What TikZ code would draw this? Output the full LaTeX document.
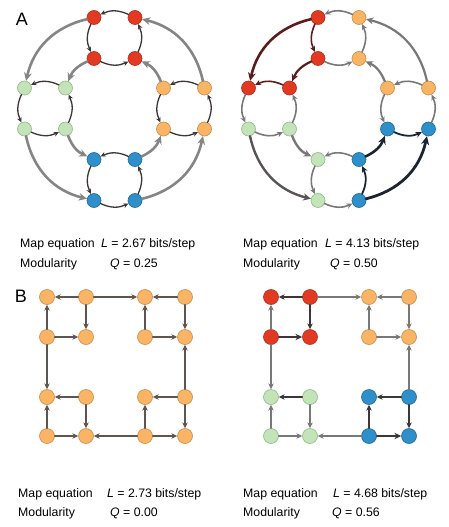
\documentclass[tikz,border=0pt]{standalone}
\usepackage{fontspec}
\setmainfont{Liberation Sans}
\usetikzlibrary{arrows.meta}

\definecolor{modred}{HTML}{E23A22}
\definecolor{modredline}{HTML}{B02C1A}
\definecolor{modorange}{HTML}{F9B466}
\definecolor{modorangeline}{HTML}{CC8C46}
\definecolor{modgreen}{HTML}{C3E3B9}
\definecolor{modgreenline}{HTML}{8FBB89}
\definecolor{modblue}{HTML}{2E8FC9}
\definecolor{modblueline}{HTML}{1F6A9C}
\definecolor{edgedark}{HTML}{3D3636}
\definecolor{edgegray}{HTML}{858585}
\definecolor{edgebrown}{HTML}{5F5550}
\definecolor{edgered}{HTML}{5A1C1C}
\definecolor{edgeblue}{HTML}{1D2431}

\tikzset{
  vertex/.style={circle, minimum size=14pt, inner sep=0pt, line width=0.6pt},
  redv/.style={vertex, fill=modred, draw=modredline},
  orangev/.style={vertex, fill=modorange, draw=modorangeline},
  greenv/.style={vertex, fill=modgreen, draw=modgreenline},
  bluev/.style={vertex, fill=modblue, draw=modblueline},
  flow/.style={-{Stealth[length=2pt 2.4, width=2pt 2.2]}},
  intra/.style={flow, draw=edgedark, line width=1.3pt},
  inter/.style={flow, draw=edgegray, line width=2.6pt},
  grayflow/.style={flow, draw=edgegray!90!black, line width=1.6pt},
  redflow/.style={flow, draw=edgered, line width=1.6pt},
  blueflow/.style={flow, draw=edgeblue, line width=1.8pt},
  gridflow/.style={flow, draw=edgebrown, line width=1.6pt},
  caption/.style={anchor=base west, inner sep=0pt, font=\fontsize{12.3}{15}\selectfont},
  panel/.style={inner sep=0pt, font=\fontsize{18}{20}\selectfont}
}

\begin{document}
\begin{tikzpicture}[x=1pt, y=-1pt, line cap=round, line join=round]
  \useasboundingbox (0,0) rectangle (448,527);

  % Buchstaben der Teilbilder
  \node[panel] (labelA) at (22,19) {A};
  \node[panel] (labelB) at (21,296) {B};

  % A links: vier Module auf einem Ring
  \node[redv] (La-t1) at (94,17.5) {};
  \node[redv] (La-t2) at (135,17.5) {};
  \node[redv] (La-t3) at (94,58.5) {};
  \node[redv] (La-t4) at (135,58.5) {};
  \node[greenv] (La-l1) at (24.5,88) {};
  \node[greenv] (La-l2) at (65.5,88) {};
  \node[greenv] (La-l3) at (24.5,129) {};
  \node[greenv] (La-l4) at (65.5,129) {};
  \node[orangev] (La-r1) at (163.5,88) {};
  \node[orangev] (La-r2) at (204.5,88) {};
  \node[orangev] (La-r3) at (163.5,129) {};
  \node[orangev] (La-r4) at (204.5,129) {};
  \node[bluev] (La-b1) at (94,159.5) {};
  \node[bluev] (La-b2) at (135,159.5) {};
  \node[bluev] (La-b3) at (94,200.5) {};
  \node[bluev] (La-b4) at (135,200.5) {};

  % Kanten innerhalb der Module
  \draw[intra] (La-t2) to[bend right=25] (La-t1);
  \draw[intra] (La-t1) to[bend right=25] (La-t3);
  \draw[intra] (La-t3) to[bend right=25] (La-t4);
  \draw[intra] (La-t4) to[bend right=25] (La-t2);
  \draw[intra] (La-l2) to[bend right=25] (La-l1);
  \draw[intra] (La-l1) to[bend right=25] (La-l3);
  \draw[intra] (La-l3) to[bend right=25] (La-l4);
  \draw[intra] (La-l4) to[bend right=25] (La-l2);
  \draw[intra] (La-r2) to[bend right=25] (La-r1);
  \draw[intra] (La-r1) to[bend right=25] (La-r3);
  \draw[intra] (La-r3) to[bend right=25] (La-r4);
  \draw[intra] (La-r4) to[bend right=25] (La-r2);
  \draw[intra] (La-b2) to[bend right=25] (La-b1);
  \draw[intra] (La-b1) to[bend right=25] (La-b3);
  \draw[intra] (La-b3) to[bend right=25] (La-b4);
  \draw[intra] (La-b4) to[bend right=25] (La-b2);

  % Kanten zwischen den Modulen
  \draw[inter] (La-t1) to[bend right=32] (La-l1);
  \draw[inter] (La-l3) to[bend right=32] (La-b3);
  \draw[inter] (La-b4) to[bend right=32] (La-r4);
  \draw[inter] (La-r2) to[bend right=32] (La-t2);
  \draw[inter] (La-t3) to[bend right=22] (La-l2);
  \draw[inter] (La-l4) to[bend right=22] (La-b1);
  \draw[inter] (La-b2) to[bend right=22] (La-r3);
  \draw[inter] (La-r1) to[bend right=22] (La-t4);

  % A rechts: gleiches Netz, andere Zerlegung
  \node[redv] (Ra-t1) at (318,17.5) {};
  \node[orangev] (Ra-t2) at (359,17.5) {};
  \node[redv] (Ra-t3) at (318,58.5) {};
  \node[orangev] (Ra-t4) at (359,58.5) {};
  \node[redv] (Ra-l1) at (248.5,88) {};
  \node[redv] (Ra-l2) at (289.5,88) {};
  \node[greenv] (Ra-l3) at (248.5,129) {};
  \node[greenv] (Ra-l4) at (289.5,129) {};
  \node[orangev] (Ra-r1) at (387.5,88) {};
  \node[orangev] (Ra-r2) at (428.5,88) {};
  \node[bluev] (Ra-r3) at (387.5,129) {};
  \node[bluev] (Ra-r4) at (428.5,129) {};
  \node[greenv] (Ra-b1) at (318,159.5) {};
  \node[bluev] (Ra-b2) at (359,159.5) {};
  \node[greenv] (Ra-b3) at (318,200.5) {};
  \node[bluev] (Ra-b4) at (359,200.5) {};

  \draw[grayflow] (Ra-t2) to[bend right=25] (Ra-t1);
  \draw[redflow] (Ra-t1) to[bend right=25] (Ra-t3);
  \draw[grayflow] (Ra-t3) to[bend right=25] (Ra-t4);
  \draw[grayflow] (Ra-t4) to[bend right=25] (Ra-t2);
  \draw[redflow] (Ra-l2) to[bend right=25] (Ra-l1);
  \draw[grayflow] (Ra-l1) to[bend right=25] (Ra-l3);
  \draw[grayflow] (Ra-l3) to[bend right=25] (Ra-l4);
  \draw[grayflow] (Ra-l4) to[bend right=25] (Ra-l2);
  \draw[grayflow] (Ra-r2) to[bend right=25] (Ra-r1);
  \draw[grayflow] (Ra-r1) to[bend right=25] (Ra-r3);
  \draw[blueflow] (Ra-r3) to[bend right=25] (Ra-r4);
  \draw[grayflow] (Ra-r4) to[bend right=25] (Ra-r2);
  \draw[grayflow] (Ra-b2) to[bend right=25] (Ra-b1);
  \draw[grayflow] (Ra-b1) to[bend right=25] (Ra-b3);
  \draw[grayflow] (Ra-b3) to[bend right=25] (Ra-b4);
  \draw[blueflow] (Ra-b4) to[bend right=25] (Ra-b2);

  \draw[redflow, line width=2.6pt] (Ra-t1) to[bend right=32] (Ra-l1);
  \draw[grayflow, draw=edgedark!85, line width=2.4pt] (Ra-l3) to[bend right=32] (Ra-b3);
  \draw[blueflow, line width=2.8pt] (Ra-b4) to[bend right=32] (Ra-r4);
  \draw[grayflow, line width=2.2pt] (Ra-r2) to[bend right=32] (Ra-t2);
  \draw[redflow, line width=2.2pt] (Ra-t3) to[bend right=22] (Ra-l2);
  \draw[grayflow, line width=2.4pt] (Ra-l4) to[bend right=22] (Ra-b1);
  \draw[blueflow, line width=2.6pt] (Ra-b2) to[bend right=22] (Ra-r3);
  \draw[grayflow, line width=2.2pt] (Ra-r1) to[bend right=22] (Ra-t4);

  % Werte zu A
  \node[caption] (eqLa) at (20,247) {Map equation};
  \node[caption] (valLa) at (101,247) {\textit{L} = 2.67 bits/step};
  \node[caption] (modLa) at (20,267) {Modularity};
  \node[caption] (qLa) at (110,267) {\textit{Q} = 0.25};
  \node[caption] (eqRa) at (243,247) {Map equation};
  \node[caption] (valRa) at (325,247) {\textit{L} = 4.13 bits/step};
  \node[caption] (modRa) at (243,267) {Modularity};
  \node[caption] (qRa) at (330,267) {\textit{Q} = 0.50};

  % B links: Gitter aus vier Quadraten
  \node[orangev, minimum size=15pt] (Lb-11) at (47,297) {};
  \node[orangev, minimum size=15pt] (Lb-21) at (86,297) {};
  \node[orangev, minimum size=15pt] (Lb-31) at (145,297) {};
  \node[orangev, minimum size=15pt] (Lb-41) at (185,297) {};
  \node[orangev, minimum size=15pt] (Lb-12) at (47,337) {};
  \node[orangev, minimum size=15pt] (Lb-22) at (86,337) {};
  \node[orangev, minimum size=15pt] (Lb-32) at (145,337) {};
  \node[orangev, minimum size=15pt] (Lb-42) at (185,337) {};
  \node[orangev, minimum size=15pt] (Lb-13) at (47,397) {};
  \node[orangev, minimum size=15pt] (Lb-23) at (86,397) {};
  \node[orangev, minimum size=15pt] (Lb-33) at (145,397) {};
  \node[orangev, minimum size=15pt] (Lb-43) at (185,397) {};
  \node[orangev, minimum size=15pt] (Lb-14) at (47,436) {};
  \node[orangev, minimum size=15pt] (Lb-24) at (86,436) {};
  \node[orangev, minimum size=15pt] (Lb-34) at (145,436) {};
  \node[orangev, minimum size=15pt] (Lb-44) at (185,436) {};

  \draw[gridflow] (Lb-21) -- (Lb-11);
  \draw[gridflow] (Lb-21) -- (Lb-31);
  \draw[gridflow] (Lb-41) -- (Lb-31);
  \draw[gridflow] (Lb-12) -- (Lb-11);
  \draw[gridflow] (Lb-21) -- (Lb-22);
  \draw[gridflow] (Lb-32) -- (Lb-31);
  \draw[gridflow] (Lb-41) -- (Lb-42);
  \draw[gridflow] (Lb-12) -- (Lb-22);
  \draw[gridflow] (Lb-32) -- (Lb-42);
  \draw[gridflow] (Lb-12) -- (Lb-13);
  \draw[gridflow] (Lb-43) -- (Lb-42);
  \draw[gridflow] (Lb-23) -- (Lb-13);
  \draw[gridflow] (Lb-43) -- (Lb-33);
  \draw[gridflow] (Lb-14) -- (Lb-13);
  \draw[gridflow] (Lb-23) -- (Lb-24);
  \draw[gridflow] (Lb-34) -- (Lb-33);
  \draw[gridflow] (Lb-43) -- (Lb-44);
  \draw[gridflow] (Lb-14) -- (Lb-24);
  \draw[gridflow] (Lb-34) -- (Lb-24);
  \draw[gridflow] (Lb-34) -- (Lb-44);

  % B rechts: die vier Quadrate als Module
  \node[redv, minimum size=15pt] (Rb-11) at (271,297) {};
  \node[redv, minimum size=15pt] (Rb-21) at (310,297) {};
  \node[orangev, minimum size=15pt] (Rb-31) at (369,297) {};
  \node[orangev, minimum size=15pt] (Rb-41) at (409,297) {};
  \node[redv, minimum size=15pt] (Rb-12) at (271,337) {};
  \node[redv, minimum size=15pt] (Rb-22) at (310,337) {};
  \node[orangev, minimum size=15pt] (Rb-32) at (369,337) {};
  \node[orangev, minimum size=15pt] (Rb-42) at (409,337) {};
  \node[greenv, minimum size=15pt] (Rb-13) at (271,397) {};
  \node[greenv, minimum size=15pt] (Rb-23) at (310,397) {};
  \node[bluev, minimum size=15pt] (Rb-33) at (369,397) {};
  \node[bluev, minimum size=15pt] (Rb-43) at (409,397) {};
  \node[greenv, minimum size=15pt] (Rb-14) at (271,436) {};
  \node[greenv, minimum size=15pt] (Rb-24) at (310,436) {};
  \node[bluev, minimum size=15pt] (Rb-34) at (369,436) {};
  \node[bluev, minimum size=15pt] (Rb-44) at (409,436) {};

  \draw[gridflow, draw=edgedark] (Rb-21) -- (Rb-11);
  \draw[grayflow] (Rb-21) -- (Rb-31);
  \draw[grayflow] (Rb-41) -- (Rb-31);
  \draw[grayflow] (Rb-12) -- (Rb-11);
  \draw[gridflow, draw=edgedark] (Rb-21) -- (Rb-22);
  \draw[grayflow] (Rb-32) -- (Rb-31);
  \draw[grayflow] (Rb-41) -- (Rb-42);
  \draw[gridflow, draw=edgedark, line width=2pt] (Rb-12) -- (Rb-22);
  \draw[grayflow] (Rb-32) -- (Rb-42);
  \draw[grayflow] (Rb-12) -- (Rb-13);
  \draw[grayflow] (Rb-43) -- (Rb-42);
  \draw[gridflow, draw=edgedark] (Rb-23) -- (Rb-13);
  \draw[gridflow, draw=edgedark] (Rb-43) -- (Rb-33);
  \draw[grayflow] (Rb-14) -- (Rb-13);
  \draw[grayflow] (Rb-23) -- (Rb-24);
  \draw[gridflow, draw=edgedark] (Rb-34) -- (Rb-33);
  \draw[gridflow, draw=edgedark] (Rb-43) -- (Rb-44);
  \draw[grayflow] (Rb-14) -- (Rb-24);
  \draw[grayflow] (Rb-34) -- (Rb-24);
  \draw[gridflow, draw=edgedark, line width=2pt] (Rb-34) -- (Rb-44);

  % Werte zu B
  \node[caption] (eqLb) at (18,497) {Map equation};
  \node[caption] (valLb) at (107,497) {\textit{L} = 2.73 bits/step};
  \node[caption] (modLb) at (18,516) {Modularity};
  \node[caption] (qLb) at (110,516) {\textit{Q} = 0.00};
  \node[caption] (eqRb) at (243,497) {Map equation};
  \node[caption] (valRb) at (333,497) {\textit{L} = 4.68 bits/step};
  \node[caption] (modRb) at (243,516) {Modularity};
  \node[caption] (qRb) at (332,516) {\textit{Q} = 0.56};
\end{tikzpicture}
\end{document}
